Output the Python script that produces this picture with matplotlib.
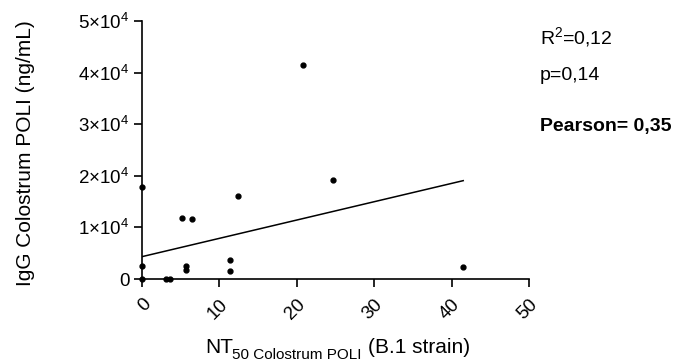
import matplotlib.pyplot as plt

plt.rcParams['font.family'] = ['Liberation Sans', 'DejaVu Sans']
plt.rcParams['mathtext.fontset'] = 'custom'
plt.rcParams['mathtext.rm'] = 'Liberation Sans'
plt.rcParams['mathtext.it'] = 'Liberation Sans'
plt.rcParams['mathtext.default'] = 'regular'

# NT50 vs IgG colostrum values
nt50 = [20.8, 24.7, 0, 12.4, 5.2, 6.5, 0, 5.7, 5.7, 11.4, 11.4, 41.5, 0, 3.1, 3.6]
igg = [41400, 19250, 17750, 16150, 11900, 11550, 2450, 2600, 1700, 3600, 1600, 2400, 0, 0, 0]

# regression line ends
fit_x = [0, 41.5]
fit_y = [4330, 19060]

xticks = [0, 10, 20, 30, 40, 50]
yticks = [0, 10000, 20000, 30000, 40000, 50000]
ytick_labels = ['0', r'$1{\times}10^{4}$', r'$2{\times}10^{4}$', r'$3{\times}10^{4}$',
                r'$4{\times}10^{4}$', r'$5{\times}10^{4}$']

W, H = 683, 363
fig = plt.figure(figsize=(6.83, 3.63), dpi=100)
ax = fig.add_axes([142 / W, 1 - 279 / H, 387 / W, 258 / H])

ax.plot(nt50, igg, 'o', color='black', markersize=3.5, clip_on=False, zorder=3)
ax.plot(fit_x, fit_y, color='black', linewidth=1.1)

ax.set_xlim(0, 50)
ax.set_ylim(0, 50000)
ax.set_xticks(xticks)
ax.set_xticklabels([str(t) for t in xticks], rotation=45, ha='right',
                   rotation_mode='anchor', fontsize=13.5)
ax.set_yticks(yticks)
ax.set_yticklabels(ytick_labels, fontsize=13.5)
ax.tick_params(direction='out', length=6, width=1.2, pad=3)
ax.tick_params(axis='x', pad=6)

for s in ['top', 'right']:
    ax.spines[s].set_visible(False)
for s in ['left', 'bottom']:
    ax.spines[s].set_linewidth(1.2)

fig.text(26 / W, 1 - 153 / H, 'IgG Colostrum POLI (ng/mL)', fontsize=15,
         rotation=90, ha='center', va='center')

# x label in three pieces so the subscript sits low like the original
fig.text(205 / W, 1 - 353 / H, 'NT', fontsize=15, va='baseline')
fig.text(232 / W, 1 - 359 / H, '50 Colostrum POLI', fontsize=11, va='baseline')
fig.text(368 / W, 1 - 353 / H, '(B.1 strain)', fontsize=15, va='baseline')

fig.text(540 / W, 1 - 37 / H, r'R$^{2}$=0,12', fontsize=14, va='center')
fig.text(540 / W, 1 - 75 / H, 'p=0,14', fontsize=14, va='center')
fig.text(540 / W, 1 - 127 / H, 'Pearson= 0,35', fontsize=14,
         fontweight='bold', va='center')

fig.savefig('out.png', dpi=100)
